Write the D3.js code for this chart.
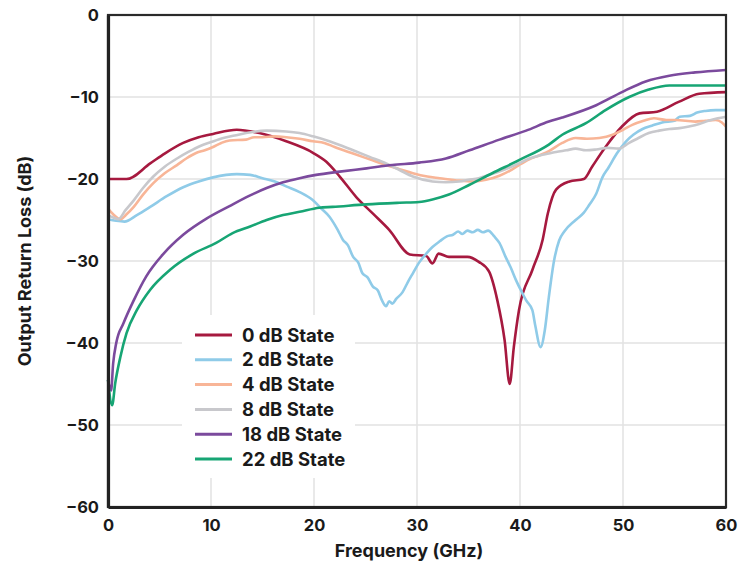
<!DOCTYPE html>
<html>
<head>
<meta charset="utf-8">
<script src="https://cdn.jsdelivr.net/npm/d3@7"></script>
<style>
  html, body { margin: 0; padding: 0; background: #fff; }
  svg { display: block; }
  text { font-family: Inter, Roboto, sans-serif; font-weight: 700; fill: #1a1a1a; }
</style>
</head>
<body>
<svg id="chart" width="747" height="564"></svg>
<script>
// Output return loss (dB) vs frequency (GHz) for each attenuation state
const xTicks = [0, 10, 20, 30, 40, 50, 60];
const yTicks = [0, -10, -20, -30, -40, -50, -60];

const stateNames = ["0 dB State", "2 dB State", "4 dB State", "8 dB State", "18 dB State", "22 dB State"];
const stateColors = ["#a6193f", "#8fcbe8", "#f8b597", "#c8c8cc", "#7b4a9d", "#17a574"];

const state0 = [[0,-20],[1.8,-20],[4.1,-18.1],[5.5,-16.9],[7.3,-15.6],[8.8,-14.9],[10.2,-14.5],[12.5,-14.0],[14.7,-14.4],[17.3,-15.4],[19.9,-16.8],[21.2,-17.9],[22.5,-19.7],[24.1,-22.2],[25.7,-24.2],[27.3,-26.2],[29.3,-29.2],[30.9,-29.4],[31.5,-30.3],[32.1,-29.1],[33.1,-29.5],[34.9,-29.5],[36.0,-30.1],[37.0,-31.3],[37.8,-34.8],[38.5,-39.6],[39.0,-45.0],[39.4,-40.5],[39.9,-36.0],[41.2,-31.1],[42.2,-27.4],[42.7,-24.2],[43.5,-21.3],[44.8,-20.3],[46.2,-20.0],[47.0,-18.5],[48.3,-16.1],[49.9,-13.6],[51.6,-12.0],[53.3,-11.8],[55.4,-10.6],[57.4,-9.6],[60,-9.4]];

const state2 = [[0,-24.9],[0.8,-25.1],[1.6,-25.2],[2.8,-24.4],[4.1,-23.4],[5.7,-22.1],[7.3,-21.0],[8.8,-20.3],[10.2,-19.8],[12.5,-19.4],[13.8,-19.5],[15.0,-19.9],[16.2,-20.3],[17.3,-20.9],[18.6,-21.6],[19.9,-22.6],[20.7,-23.6],[21.5,-24.6],[22.3,-26.2],[22.8,-27.4],[23.3,-28.1],[23.8,-29.5],[24.3,-30.2],[24.7,-31.5],[25.2,-32.0],[25.7,-33.1],[26.2,-33.6],[26.6,-34.8],[27.0,-35.5],[27.3,-34.9],[27.6,-35.2],[28.0,-34.6],[28.6,-33.8],[29.1,-32.6],[29.6,-31.5],[30.2,-30.2],[30.9,-29.1],[31.5,-28.3],[32.2,-27.6],[32.9,-27.0],[33.5,-26.8],[34.0,-26.4],[34.4,-26.7],[34.9,-26.3],[35.4,-26.5],[35.9,-26.2],[36.4,-26.5],[36.9,-26.3],[37.5,-27.0],[38.0,-27.8],[38.6,-29.5],[39.1,-30.8],[39.6,-32.3],[40.1,-33.6],[40.6,-34.8],[41.2,-36.0],[41.5,-38.0],[42.0,-40.5],[42.4,-38.5],[42.8,-34.4],[43.3,-30.0],[43.8,-27.5],[44.3,-26.4],[45.4,-25.0],[46.2,-24.1],[46.7,-23.2],[47.4,-21.8],[48.0,-19.8],[48.6,-18.6],[49.4,-16.9],[50.3,-15.4],[51.0,-14.6],[51.9,-13.9],[52.8,-13.5],[53.8,-13.1],[55.0,-12.9],[55.5,-12.4],[56.5,-12.3],[57.2,-11.9],[58.0,-11.7],[59,-11.6],[60,-11.6]];

const state4 = [[0,-23.6],[0.5,-24.3],[1.2,-24.9],[1.8,-24.3],[2.5,-23.4],[3.4,-21.9],[4.4,-20.5],[5.5,-19.3],[6.7,-18.3],[7.6,-17.5],[8.6,-16.8],[9.4,-16.5],[10.2,-16.1],[11.0,-15.6],[11.8,-15.3],[13.4,-15.2],[14.2,-14.9],[15.0,-14.9],[16.2,-14.8],[17.3,-14.9],[18.6,-15.1],[19.9,-15.4],[21.0,-15.6],[22.0,-16.1],[23.8,-16.9],[25.4,-17.6],[27.0,-18.3],[28.3,-18.8],[29.6,-19.3],[31.0,-19.7],[32.2,-19.9],[34.1,-20.2],[35.5,-20.3],[36.7,-20.1],[38.0,-19.6],[39.0,-19.0],[39.9,-18.3],[40.9,-17.6],[41.9,-17.1],[42.8,-16.6],[44.1,-15.6],[45.4,-15.0],[46.5,-15.1],[47.7,-15.0],[49.0,-14.6],[50.0,-14.0],[50.9,-13.4],[52.0,-12.9],[53.0,-12.6],[54.2,-12.8],[55.1,-12.8],[57.0,-13.0],[58.0,-12.9],[59.0,-12.8],[59.6,-13.1],[60,-13.6]];

const state8 = [[0,-24.4],[0.5,-24.7],[1.0,-24.9],[1.7,-23.8],[2.5,-22.6],[3.4,-21.1],[4.4,-19.7],[5.5,-18.5],[6.7,-17.5],[7.8,-16.7],[8.9,-16.0],[10.0,-15.5],[11.2,-15.0],[12.3,-14.7],[13.4,-14.4],[15.4,-14.1],[17.3,-14.2],[18.6,-14.4],[19.9,-14.8],[21.5,-15.4],[23.8,-16.5],[25.4,-17.3],[27.0,-18.1],[28.3,-18.9],[29.6,-19.7],[31.5,-20.3],[32.8,-20.4],[34.1,-20.3],[35.0,-20.1],[36.0,-19.9],[37.0,-19.5],[38.0,-19.1],[39.9,-18.1],[40.9,-17.5],[42.0,-17.1],[42.8,-16.9],[43.5,-16.7],[44.5,-16.5],[45.4,-16.3],[46.4,-16.5],[47.4,-16.4],[48.5,-16.2],[49.6,-16.3],[50.6,-15.6],[51.5,-15.0],[52.5,-14.4],[53.5,-14.1],[54.5,-13.9],[55.5,-13.8],[56.4,-13.6],[57.4,-13.3],[58.3,-12.9],[59.2,-12.6],[60,-12.4]];

const state18 = [[0,-44.5],[0.3,-45.8],[0.5,-42.5],[0.8,-40.0],[1.5,-37.6],[2.5,-34.8],[3.7,-31.9],[5.4,-29.1],[7.3,-26.8],[9.6,-24.8],[11.8,-23.3],[13.8,-22.0],[15.4,-21.1],[17.0,-20.4],[18.6,-19.9],[20.2,-19.5],[22.5,-19.1],[25.1,-18.7],[27.6,-18.3],[30.2,-18.0],[32.8,-17.5],[35.1,-16.5],[38.0,-15.2],[40.6,-14.1],[42.8,-13.0],[44.1,-12.5],[47.4,-11.0],[49.9,-9.4],[52.2,-8.1],[54.5,-7.4],[57.0,-7.0],[60,-6.7]];

const state22 = [[0,-44.5],[0.4,-47.6],[0.7,-44.9],[1.2,-41.7],[1.8,-38.8],[2.8,-36.0],[4.1,-33.5],[6.0,-31.1],[8.3,-29.1],[10.5,-27.8],[12.1,-26.6],[13.8,-25.8],[15.4,-25.0],[17.0,-24.4],[18.6,-24.0],[20.5,-23.5],[21.8,-23.4],[25.1,-23.1],[28.3,-22.9],[30.2,-22.8],[31.5,-22.5],[33.1,-21.9],[35.1,-20.7],[37.3,-19.3],[39.9,-17.7],[42.8,-15.8],[44.1,-14.6],[46.4,-13.2],[48.3,-11.6],[50.6,-10.0],[52.5,-9.1],[54.5,-8.6],[57.0,-8.6],[60,-8.6]];

const series = [state0, state2, state4, state8, state18, state22];

const svg = d3.select("#chart");
const margin = { left: 108, top: 15, right: 21, bottom: 57 };
const W = 747 - margin.left - margin.right;
const H = 564 - margin.top - margin.bottom;

const x = d3.scaleLinear().domain([0, 60]).range([0, W]);
const y = d3.scaleLinear().domain([-60, 0]).range([H, 0]);

const g = svg.append("g").attr("transform", `translate(${margin.left},${margin.top})`);

// grid
g.append("g").selectAll("line.v").data(xTicks.slice(1, -1)).join("line")
  .attr("x1", d => x(d)).attr("x2", d => x(d)).attr("y1", 0).attr("y2", H)
  .attr("stroke", "#e2e2e2").attr("stroke-width", 1.5);
g.append("g").selectAll("line.h").data(yTicks.slice(1, -1)).join("line")
  .attr("x1", 0).attr("x2", W).attr("y1", d => y(d)).attr("y2", d => y(d))
  .attr("stroke", "#e2e2e2").attr("stroke-width", 1.5);

// legend backdrop hides the grid behind the key
g.append("rect")
  .attr("x", 182 - margin.left).attr("y", 315 - margin.top)
  .attr("width", 173).attr("height", 163).attr("fill", "#fff");

// curves
const line = d3.line().x(d => x(d[0])).y(d => y(d[1])).curve(d3.curveMonotoneX);
g.append("g").selectAll("path").data(series).join("path")
  .attr("d", line)
  .attr("fill", "none")
  .attr("stroke", (d, i) => stateColors[i])
  .attr("stroke-width", 2.6)
  .attr("stroke-linejoin", "round");

// frame
g.append("rect").attr("x", 0).attr("y", 0).attr("width", W).attr("height", H)
  .attr("fill", "none").attr("stroke", "#2a2a2a").attr("stroke-width", 2.2);

// axes
const fmt = d => d < 0 ? "\u2212" + Math.abs(d) : String(d);
const xAxis = g.append("g").attr("transform", `translate(0,${H})`)
  .call(d3.axisBottom(x).tickValues(xTicks).tickSize(0).tickPadding(12).tickFormat(fmt));
const yAxis = g.append("g")
  .call(d3.axisLeft(y).tickValues(yTicks).tickSize(0).tickPadding(9).tickFormat(fmt));
[xAxis, yAxis].forEach(a => {
  a.select(".domain").attr("stroke", "#222").attr("stroke-width", 3.2);
  a.selectAll("text").attr("font-size", 16.5).attr("font-family", "Inter, Roboto, sans-serif")
    .attr("font-weight", 700).attr("fill", "#1a1a1a");
});

// axis titles
svg.append("text").attr("x", 409).attr("y", 557)
  .attr("text-anchor", "middle").attr("font-size", 18).text("Frequency (GHz)");
svg.append("text").attr("transform", "translate(31,261) rotate(-90)")
  .attr("text-anchor", "middle").attr("font-size", 18).text("Output Return Loss (dB)");

// legend
const legend = svg.append("g");
const rowY = i => 335 + i * 24.8;
legend.selectAll("line").data(stateNames).join("line")
  .attr("x1", 195).attr("x2", 232)
  .attr("y1", (d, i) => rowY(i)).attr("y2", (d, i) => rowY(i))
  .attr("stroke", (d, i) => stateColors[i]).attr("stroke-width", 3);
legend.selectAll("text").data(stateNames).join("text")
  .attr("x", 242).attr("y", (d, i) => rowY(i)).attr("dy", "0.36em")
  .attr("font-size", 18.5).text(d => d);
</script>
</body>
</html>
